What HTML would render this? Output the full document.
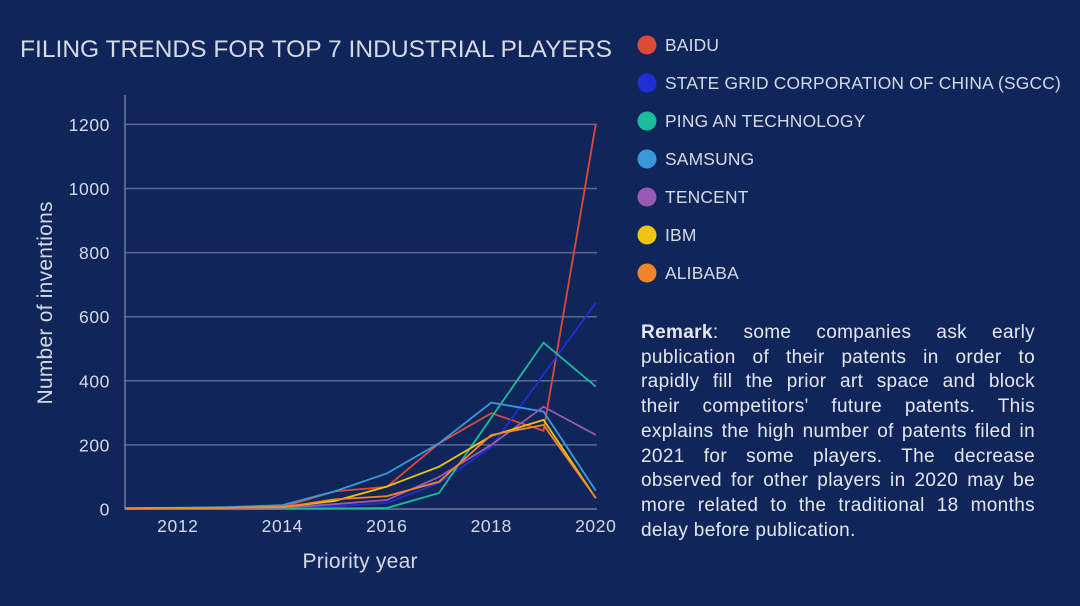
<!DOCTYPE html>
<html><head><meta charset="utf-8"><style>
body{margin:0;width:1080px;height:606px;background:#10255a;overflow:hidden;font-family:"Liberation Sans",sans-serif;color:#d6dae4}
svg{position:absolute;left:0;top:0}
.remark{position:absolute;left:641px;top:321px;width:394px;font-size:19px;letter-spacing:0.35px;line-height:24.7px;color:#e4e7ee}
.remark div{white-space:nowrap;text-align:justify;text-align-last:justify}
.remark div.last{text-align-last:left}
</style></head><body>
<svg id="c" width="1080" height="606">
<text x="20" y="57" font-size="24" textLength="592" lengthAdjust="spacingAndGlyphs" fill="#d6dae4">FILING TRENDS FOR TOP 7 INDUSTRIAL PLAYERS</text>
</svg>
<div class="remark">
<div><b>Remark</b>: some companies ask early</div>
<div>publication of their patents in order to</div>
<div>rapidly fill the prior art space and block</div>
<div>their competitors' future patents. This</div>
<div>explains the high number of patents filed in</div>
<div>2021 for some players. The decrease</div>
<div>observed for other players in 2020 may be</div>
<div>more related to the traditional 18 months</div>
<div class="last">delay before publication.</div>
</div>
<script>
const years=[2011,2012,2013,2014,2015,2016,2017,2018,2019,2020];
const names=["BAIDU","STATE GRID CORPORATION OF CHINA (SGCC)","PING AN TECHNOLOGY","SAMSUNG","TENCENT","IBM","ALIBABA"];
const colors=["#dc4a38","#1f2fd6","#1abc9c","#3a98dc","#9b59b6","#f1c40f","#f0862a"];
const baidu=[2,3,4,6,55,69,205,299,244,1200];
const sgcc=[0,1,1,2,8,19,81,194,420,643];
const pingan=[0,0,0,1,2,3,50,285,519,382];
const samsung=[3,4,6,12,55,111,205,332,304,57];
const tencent=[1,2,2,4,15,28,100,200,319,231];
const ibm=[2,3,4,6,25,70,132,228,278,34];
const alibaba=[2,3,4,5,30,40,85,231,262,34];
const series=[baidu,sgcc,pingan,samsung,tencent,ibm,alibaba];
const yTicks=[0,200,400,600,800,1000,1200];
const xTicks=[2012,2014,2016,2018,2020];
const NS="http://www.w3.org/2000/svg";
const svg=document.getElementById('c');
const x=v=>125.6+(v-2011)*52.24;
const y=v=>509-v*0.3205;
function mk(t,a,p){const e=document.createElementNS(NS,t);for(const k in a)e.setAttribute(k,a[k]);(p||svg).appendChild(e);return e;}
yTicks.forEach(t=>{
 if(t>0){const g=mk('line',{x1:125,x2:597,y1:y(t),y2:y(t),stroke:'#5a6a93','stroke-width':1.5});
 
 }
 const l=mk('text',{x:110,y:y(t)+6.5,'text-anchor':'end','font-size':17.5,'letter-spacing':0.6,fill:'#d6dae4'});l.textContent=t;
 
 
});
const ax=mk('path',{d:'M125 95 V509 H597',fill:'none',stroke:'#6c7ba0','stroke-width':1.5});


xTicks.forEach(t=>{const l=mk('text',{x:x(t),y:532,'text-anchor':'middle','font-size':17.5,'letter-spacing':0.6,fill:'#d6dae4'});l.textContent=t;
 
 });
const xt=mk('text',{x:360,y:568,'text-anchor':'middle','font-size':21,textLength:115,fill:'#d6dae4'});xt.textContent='Priority year';


const yt=mk('text',{x:0,y:0,'text-anchor':'middle','font-size':21,textLength:203,fill:'#d6dae4',transform:'translate(52,303) rotate(-90)'});yt.textContent='Number of inventions';


series.forEach((s,i)=>{
 const p=mk('polyline',{points:s.map((v,j)=>x(years[j])+','+y(v)).join(' '),fill:'none',stroke:colors[i],'stroke-width':1.8});
 
 
 const cy=45+i*38;
 const c=mk('circle',{cx:647,cy:cy,r:9.5,fill:colors[i]});
 
 
 const t=mk('text',{x:665,y:cy+6,'font-size':17.4,'letter-spacing':0.2,fill:'#d6dae4'});t.textContent=names[i];
 
 
});
</script>
</body></html>
